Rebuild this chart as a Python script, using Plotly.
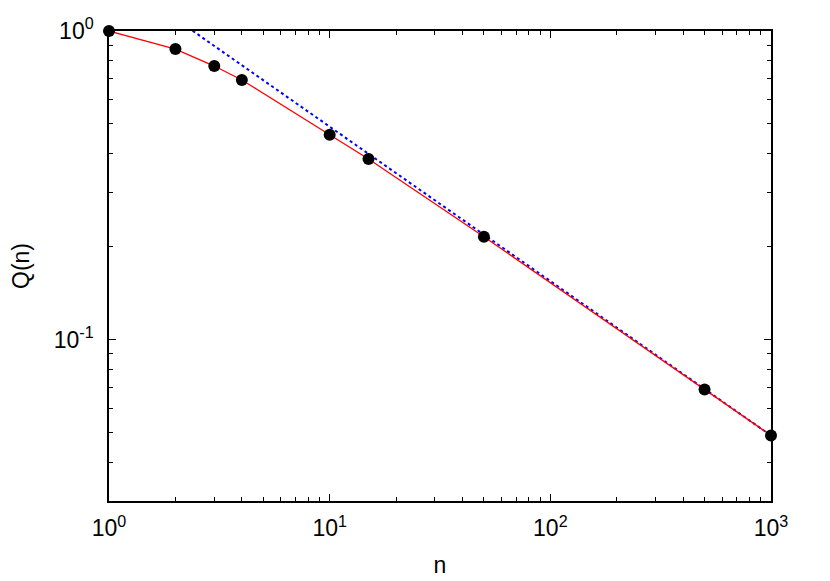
import plotly.graph_objects as go
import numpy as np

# data
n_vals = [1, 2, 3, 4, 10, 15, 50, 500, 1000]
q_vals = [1.0, 0.874, 0.770, 0.694, 0.461, 0.385, 0.2155, 0.0689, 0.0489]
asym_n = [1, 1000]
asym_q = [1.55, 0.0489]

x_tickvals = [1, 10, 100, 1000]
x_ticktext = ["10<sup>0</sup>", "10<sup>1</sup>", "10<sup>2</sup>", "10<sup>3</sup>"]
y_tickvals = [0.1, 1]
y_ticktext = ["10<sup>-1</sup>", "10<sup>0</sup>"]

x_minor = [m * 10**d for d in range(3) for m in range(2, 10)]
y_minor = [0.03] + [m * 0.01 for m in range(4, 10)] + [m * 0.1 for m in range(2, 10)]

FONT = "Liberation Sans, Arial, sans-serif"
FS = 23
XR = [0, 3]
YR = [float(np.log10(0.03)), 0]

fig = go.Figure()
fig.add_trace(go.Scatter(x=asym_n, y=asym_q, mode="lines",
                         line=dict(color="#0000ff", width=2, dash="dot"),
                         showlegend=False))
fig.add_trace(go.Scatter(x=n_vals, y=q_vals, mode="lines",
                         line=dict(color="#ff0000", width=1.3),
                         showlegend=False))
fig.add_trace(go.Scatter(x=n_vals, y=q_vals, mode="markers",
                         marker=dict(color="black", size=12),
                         showlegend=False, cliponaxis=False))
# invisible trace on the minor-tick axes so they render
fig.add_trace(go.Scatter(x=[1], y=[1], xaxis="x2", yaxis="y2", mode="markers",
                         marker=dict(opacity=0), showlegend=False, hoverinfo="skip"))

axis_common = dict(
    showgrid=False, zeroline=False, showline=True, linecolor="black", linewidth=1.5,
    mirror="allticks", ticks="inside", ticklen=7, tickwidth=1.2, tickcolor="black",
    tickfont=dict(family=FONT, size=FS, color="black"),
    title_font=dict(family=FONT, size=FS, color="black"),
    automargin=False,
)

minor_common = dict(
    showgrid=False, zeroline=False, showline=False, showticklabels=False,
    mirror="allticks", ticks="inside", ticklen=4, tickwidth=1.2, tickcolor="black",
    tickmode="array", automargin=False,
)

fig.update_layout(
    width=830, height=581, margin=dict(l=101, r=67, t=23, b=88),
    plot_bgcolor="white", paper_bgcolor="white",
    font=dict(family=FONT, size=FS, color="black"),
    xaxis=dict(type="log", range=XR, tickmode="array", tickvals=x_tickvals,
               ticktext=x_ticktext, title_text="n", title_standoff=17,
               ticklabelstandoff=6, **axis_common),
    yaxis=dict(type="log", range=YR, tickmode="array", tickvals=y_tickvals,
               ticktext=y_ticktext, title_text="Q(n)", title_standoff=42,
               ticklabelstandoff=9, **axis_common),
    xaxis2=dict(type="log", range=XR, overlaying="x", anchor="y2", side="bottom",
                tickvals=x_minor, **minor_common),
    yaxis2=dict(type="log", range=YR, overlaying="y", anchor="x2", side="left",
                tickvals=y_minor, **minor_common),
)

fig.write_html("out.html")
